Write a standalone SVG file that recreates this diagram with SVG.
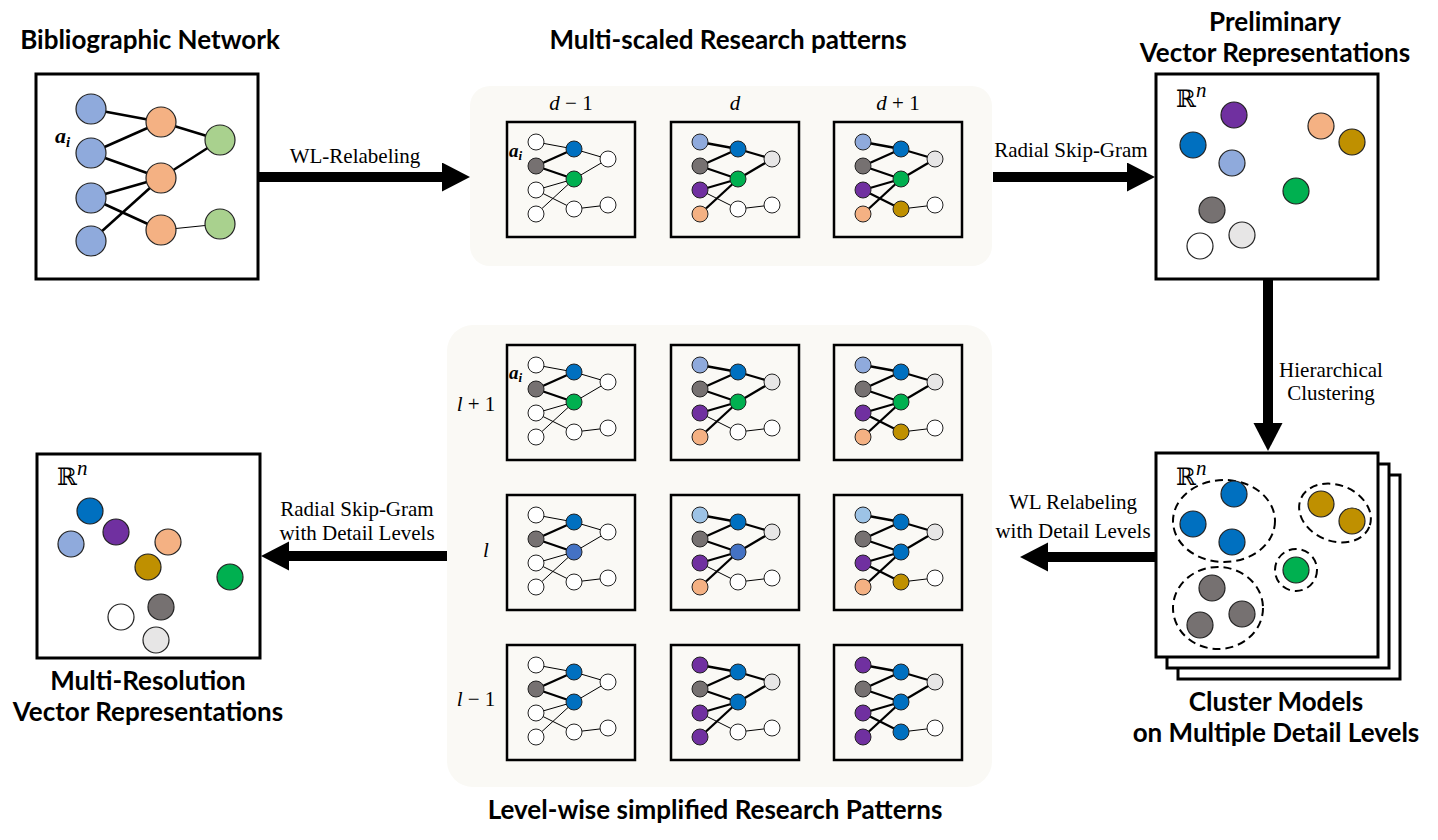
<svg xmlns="http://www.w3.org/2000/svg" xmlns:xlink="http://www.w3.org/1999/xlink" width="1438" height="840" viewBox="0 0 1438 840">
<style>
.box{fill:#fff;stroke:#000;stroke-width:3}
.mbox{fill:none;stroke:#000;stroke-width:2.5}
.panel{fill:#faf9f5}
.tk{stroke:#000;stroke-width:2.3}
.tn{stroke:#000;stroke-width:1}
.title{font-family:Lato,"Liberation Sans",sans-serif;font-weight:bold;font-size:26px;text-anchor:middle;fill:#000}
.lbl{font-family:"Liberation Serif",serif;font-size:21px;text-anchor:middle;fill:#000}
.math{font-family:"Liberation Serif",serif;font-size:21px;fill:#000}
.ai{font-family:"Liberation Serif",serif;font-weight:bold;font-style:italic;fill:#000}
.rr{font-family:"DejaVu Serif","DejaVu Sans",serif;font-size:24px;fill:#000}
.n{stroke:#222;stroke-width:1}
.nb{stroke:#222;stroke-width:1.2}
.dash{fill:none;stroke:#000;stroke-width:2;stroke-dasharray:8,5}
.conn{stroke:#000;stroke-width:10;fill:none}
.w{fill:#fff}.lb{fill:#8faadc}.or{fill:#f4b183}.lg{fill:#a9d18e}.bl{fill:#0070c0}.pu{fill:#7030a0}.go{fill:#bf9000}.gr{fill:#00b050}.dg{fill:#767171}.lgr{fill:#e7e6e6}.mb{fill:#4472c4}.sk{fill:#9dc3e6}
</style>
<defs>
<marker id="ah" markerUnits="userSpaceOnUse" markerWidth="30" markerHeight="30" refX="1" refY="14.5" orient="auto">
<path d="M0,0 L28,14.5 L0,29 z" fill="#000"/>
</marker>
<g id="eA">
<line class="tn" x1="29" y1="20" x2="67" y2="27"/>
<line class="tk" x1="29" y1="44" x2="67" y2="27"/>
<line class="tk" x1="29" y1="44" x2="67" y2="57"/>
<line class="tn" x1="29" y1="68" x2="67" y2="57"/>
<line class="tn" x1="29" y1="68" x2="67" y2="87"/>
<line class="tn" x1="29" y1="92" x2="67" y2="57"/>
<line class="tn" x1="67" y1="27" x2="101" y2="37"/>
<line class="tn" x1="67" y1="57" x2="101" y2="37"/>
<line class="tn" x1="67" y1="87" x2="101" y2="83"/>
</g>
<g id="eB">
<line class="tk" x1="29" y1="20" x2="67" y2="27"/>
<line class="tk" x1="29" y1="44" x2="67" y2="27"/>
<line class="tk" x1="29" y1="44" x2="67" y2="57"/>
<line class="tk" x1="29" y1="68" x2="67" y2="57"/>
<line class="tn" x1="29" y1="68" x2="67" y2="87"/>
<line class="tk" x1="29" y1="92" x2="67" y2="57"/>
<line class="tk" x1="67" y1="27" x2="101" y2="37"/>
<line class="tk" x1="67" y1="57" x2="101" y2="37"/>
<line class="tn" x1="67" y1="87" x2="101" y2="83"/>
</g>
<g id="eC">
<line class="tk" x1="29" y1="20" x2="67" y2="27"/>
<line class="tk" x1="29" y1="44" x2="67" y2="27"/>
<line class="tk" x1="29" y1="44" x2="67" y2="57"/>
<line class="tk" x1="29" y1="68" x2="67" y2="57"/>
<line class="tk" x1="29" y1="68" x2="67" y2="87"/>
<line class="tk" x1="29" y1="92" x2="67" y2="57"/>
<line class="tk" x1="67" y1="27" x2="101" y2="37"/>
<line class="tk" x1="67" y1="57" x2="101" y2="37"/>
<line class="tn" x1="67" y1="87" x2="101" y2="83"/>
</g>
<rect id="mb" class="mbox" x="0" y="0" width="128" height="115"/>
</defs>

<rect width="1438" height="840" fill="#fff"/>

<!-- Panels -->
<rect class="panel" x="470" y="86" width="522" height="180" rx="20"/>
<rect class="panel" x="447" y="325" width="545" height="462" rx="26"/>

<!-- Bibliographic Network -->
<g id="bib">
<text class="title" x="150" y="49">Bibliographic Network</text>
<rect class="box" x="36" y="74" width="222" height="205"/>
<g stroke="#000" stroke-width="2.5">
<line x1="91" y1="109" x2="161" y2="122"/>
<line x1="91" y1="153" x2="161" y2="122"/>
<line x1="91" y1="153" x2="161" y2="178"/>
<line x1="91" y1="198" x2="161" y2="178"/>
<line x1="91" y1="198" x2="161" y2="230"/>
<line x1="91" y1="241" x2="161" y2="178"/>
<line x1="161" y1="122" x2="220" y2="140"/>
<line x1="161" y1="178" x2="220" y2="140"/>
</g>
<line x1="161" y1="230" x2="220" y2="224" stroke="#000" stroke-width="1"/>
<circle class="nb lb" cx="91" cy="109" r="15"/>
<circle class="nb lb" cx="91" cy="153" r="15"/>
<circle class="nb lb" cx="91" cy="198" r="15"/>
<circle class="nb lb" cx="91" cy="241" r="15"/>
<circle class="nb or" cx="161" cy="122" r="15"/>
<circle class="nb or" cx="161" cy="178" r="15"/>
<circle class="nb or" cx="161" cy="230" r="15"/>
<circle class="nb lg" cx="220" cy="140" r="15"/>
<circle class="nb lg" cx="220" cy="224" r="15"/>
<text class="ai" x="55" y="143" font-size="22">a<tspan font-size="15" dy="4">i</tspan></text>
</g>

<!-- Multi-scaled Research patterns -->
<g id="multiscaled">
<text class="title" x="728" y="49">Multi-scaled Research patterns</text>
<text class="math" x="571" y="110" text-anchor="middle"><tspan font-style="italic">d</tspan> − 1</text>
<text class="math" x="735" y="110" text-anchor="middle" font-style="italic">d</text>
<text class="math" x="898" y="110" text-anchor="middle"><tspan font-style="italic">d</tspan> + 1</text>
<g id="ms1" transform="translate(507,122)">
<use xlink:href="#mb"/><use xlink:href="#eA"/>
<circle class="n w" cx="29" cy="20" r="8"/><circle class="n dg" cx="29" cy="44" r="8"/><circle class="n w" cx="29" cy="68" r="8"/><circle class="n w" cx="29" cy="92" r="8"/>
<circle class="n bl" cx="67" cy="27" r="8"/><circle class="n gr" cx="67" cy="57" r="8"/><circle class="n w" cx="67" cy="87" r="8"/>
<circle class="n w" cx="101" cy="37" r="8"/><circle class="n w" cx="101" cy="83" r="8"/>
<text class="ai" x="2" y="35" font-size="19">a<tspan font-size="13" dy="3">i</tspan></text>
</g>
<g id="ms2" transform="translate(671,122)">
<use xlink:href="#mb"/><use xlink:href="#eB"/>
<circle class="n lb" cx="29" cy="20" r="8"/><circle class="n dg" cx="29" cy="44" r="8"/><circle class="n pu" cx="29" cy="68" r="8"/><circle class="n or" cx="29" cy="92" r="8"/>
<circle class="n bl" cx="67" cy="27" r="8"/><circle class="n gr" cx="67" cy="57" r="8"/><circle class="n w" cx="67" cy="87" r="8"/>
<circle class="n lgr" cx="101" cy="37" r="8"/><circle class="n w" cx="101" cy="83" r="8"/>
</g>
<g id="ms3" transform="translate(834,122)">
<use xlink:href="#mb"/><use xlink:href="#eC"/>
<circle class="n lb" cx="29" cy="20" r="8"/><circle class="n dg" cx="29" cy="44" r="8"/><circle class="n pu" cx="29" cy="68" r="8"/><circle class="n or" cx="29" cy="92" r="8"/>
<circle class="n bl" cx="67" cy="27" r="8"/><circle class="n gr" cx="67" cy="57" r="8"/><circle class="n go" cx="67" cy="87" r="8"/>
<circle class="n lgr" cx="101" cy="37" r="8"/><circle class="n w" cx="101" cy="83" r="8"/>
</g>
</g>

<!-- Preliminary Vector Representations -->
<g id="prelim">
<text class="title" x="1275" y="31">Preliminary</text>
<text class="title" x="1275" y="62">Vector Representations</text>
<rect class="box" x="1156" y="74" width="222" height="205"/>
<text class="rr" x="1176" y="107">ℝ<tspan class="math" font-style="italic" font-size="20" dy="-10">n</tspan></text>
<circle class="nb pu" cx="1234" cy="115" r="13"/>
<circle class="nb bl" cx="1193" cy="145" r="13"/>
<circle class="nb lb" cx="1232" cy="163" r="13"/>
<circle class="nb or" cx="1321" cy="126" r="13"/>
<circle class="nb go" cx="1352" cy="142" r="13"/>
<circle class="nb gr" cx="1296" cy="191" r="13"/>
<circle class="nb dg" cx="1212" cy="210" r="13"/>
<circle class="nb lgr" cx="1242" cy="235" r="13"/>
<circle class="nb w" cx="1200" cy="246" r="13"/>
</g>

<!-- Cluster Models -->
<g id="cluster">
<rect class="box" x="1178" y="475" width="222" height="204"/>
<rect class="box" x="1167" y="464" width="222" height="204"/>
<rect class="box" x="1156" y="453" width="222" height="204"/>
<text class="rr" x="1176" y="485">ℝ<tspan class="math" font-style="italic" font-size="20" dy="-10">n</tspan></text>
<ellipse class="dash" cx="1224" cy="521" rx="51" ry="41"/>
<ellipse class="dash" cx="1335" cy="513" rx="37" ry="28" transform="rotate(22 1335 513)"/>
<circle class="dash" cx="1296" cy="570" r="21"/>
<ellipse class="dash" cx="1218" cy="608" rx="45" ry="41"/>
<circle class="nb bl" cx="1234" cy="494" r="13"/>
<circle class="nb bl" cx="1193" cy="524" r="13"/>
<circle class="nb bl" cx="1232" cy="542" r="13"/>
<circle class="nb go" cx="1321" cy="504" r="13"/>
<circle class="nb go" cx="1352" cy="521" r="13"/>
<circle class="nb gr" cx="1296" cy="570" r="13"/>
<circle class="nb dg" cx="1212" cy="588" r="13"/>
<circle class="nb dg" cx="1242" cy="614" r="13"/>
<circle class="nb dg" cx="1200" cy="625" r="13"/>
<text class="title" x="1276" y="711">Cluster Models</text>
<text class="title" x="1276" y="742">on Multiple Detail Levels</text>
</g>

<!-- Level-wise simplified Research Patterns -->
<g id="levelwise">
<text class="math" x="476" y="411" text-anchor="middle"><tspan font-style="italic">l</tspan> + 1</text>
<text class="math" x="486" y="557" text-anchor="middle" font-style="italic">l</text>
<text class="math" x="476" y="706" text-anchor="middle"><tspan font-style="italic">l</tspan> − 1</text>
<g id="lw11" transform="translate(507,345)">
<use xlink:href="#mb"/><use xlink:href="#eA"/>
<circle class="n w" cx="29" cy="20" r="8"/><circle class="n dg" cx="29" cy="44" r="8"/><circle class="n w" cx="29" cy="68" r="8"/><circle class="n w" cx="29" cy="92" r="8"/>
<circle class="n bl" cx="67" cy="27" r="8"/><circle class="n gr" cx="67" cy="57" r="8"/><circle class="n w" cx="67" cy="87" r="8"/>
<circle class="n w" cx="101" cy="37" r="8"/><circle class="n w" cx="101" cy="83" r="8"/>
<text class="ai" x="2" y="34" font-size="19">a<tspan font-size="13" dy="3">i</tspan></text>
</g>
<g id="lw12" transform="translate(671,345)">
<use xlink:href="#mb"/><use xlink:href="#eB"/>
<circle class="n lb" cx="29" cy="20" r="8"/><circle class="n dg" cx="29" cy="44" r="8"/><circle class="n pu" cx="29" cy="68" r="8"/><circle class="n or" cx="29" cy="92" r="8"/>
<circle class="n bl" cx="67" cy="27" r="8"/><circle class="n gr" cx="67" cy="57" r="8"/><circle class="n w" cx="67" cy="87" r="8"/>
<circle class="n lgr" cx="101" cy="37" r="8"/><circle class="n w" cx="101" cy="83" r="8"/>
</g>
<g id="lw13" transform="translate(834,345)">
<use xlink:href="#mb"/><use xlink:href="#eC"/>
<circle class="n lb" cx="29" cy="20" r="8"/><circle class="n dg" cx="29" cy="44" r="8"/><circle class="n pu" cx="29" cy="68" r="8"/><circle class="n or" cx="29" cy="92" r="8"/>
<circle class="n bl" cx="67" cy="27" r="8"/><circle class="n gr" cx="67" cy="57" r="8"/><circle class="n go" cx="67" cy="87" r="8"/>
<circle class="n lgr" cx="101" cy="37" r="8"/><circle class="n w" cx="101" cy="83" r="8"/>
</g>
<g id="lw21" transform="translate(507,495)">
<use xlink:href="#mb"/><use xlink:href="#eA"/>
<circle class="n w" cx="29" cy="20" r="8"/><circle class="n dg" cx="29" cy="44" r="8"/><circle class="n w" cx="29" cy="68" r="8"/><circle class="n w" cx="29" cy="92" r="8"/>
<circle class="n bl" cx="67" cy="27" r="8"/><circle class="n mb" cx="67" cy="57" r="8"/><circle class="n w" cx="67" cy="87" r="8"/>
<circle class="n w" cx="101" cy="37" r="8"/><circle class="n w" cx="101" cy="83" r="8"/>
</g>
<g id="lw22" transform="translate(671,495)">
<use xlink:href="#mb"/><use xlink:href="#eB"/>
<circle class="n sk" cx="29" cy="20" r="8"/><circle class="n dg" cx="29" cy="44" r="8"/><circle class="n pu" cx="29" cy="68" r="8"/><circle class="n or" cx="29" cy="92" r="8"/>
<circle class="n bl" cx="67" cy="27" r="8"/><circle class="n mb" cx="67" cy="57" r="8"/><circle class="n w" cx="67" cy="87" r="8"/>
<circle class="n lgr" cx="101" cy="37" r="8"/><circle class="n w" cx="101" cy="83" r="8"/>
</g>
<g id="lw23" transform="translate(834,495)">
<use xlink:href="#mb"/><use xlink:href="#eC"/>
<circle class="n sk" cx="29" cy="20" r="8"/><circle class="n dg" cx="29" cy="44" r="8"/><circle class="n pu" cx="29" cy="68" r="8"/><circle class="n or" cx="29" cy="92" r="8"/>
<circle class="n bl" cx="67" cy="27" r="8"/><circle class="n bl" cx="67" cy="57" r="8"/><circle class="n go" cx="67" cy="87" r="8"/>
<circle class="n lgr" cx="101" cy="37" r="8"/><circle class="n w" cx="101" cy="83" r="8"/>
</g>
<g id="lw31" transform="translate(507,645)">
<use xlink:href="#mb"/><use xlink:href="#eA"/>
<circle class="n w" cx="29" cy="20" r="8"/><circle class="n dg" cx="29" cy="44" r="8"/><circle class="n w" cx="29" cy="68" r="8"/><circle class="n w" cx="29" cy="92" r="8"/>
<circle class="n bl" cx="67" cy="27" r="8"/><circle class="n bl" cx="67" cy="57" r="8"/><circle class="n w" cx="67" cy="87" r="8"/>
<circle class="n w" cx="101" cy="37" r="8"/><circle class="n w" cx="101" cy="83" r="8"/>
</g>
<g id="lw32" transform="translate(671,645)">
<use xlink:href="#mb"/><use xlink:href="#eB"/>
<circle class="n pu" cx="29" cy="20" r="8"/><circle class="n dg" cx="29" cy="44" r="8"/><circle class="n pu" cx="29" cy="68" r="8"/><circle class="n pu" cx="29" cy="92" r="8"/>
<circle class="n bl" cx="67" cy="27" r="8"/><circle class="n bl" cx="67" cy="57" r="8"/><circle class="n w" cx="67" cy="87" r="8"/>
<circle class="n lgr" cx="101" cy="37" r="8"/><circle class="n w" cx="101" cy="83" r="8"/>
</g>
<g id="lw33" transform="translate(834,645)">
<use xlink:href="#mb"/><use xlink:href="#eC"/>
<circle class="n pu" cx="29" cy="20" r="8"/><circle class="n dg" cx="29" cy="44" r="8"/><circle class="n pu" cx="29" cy="68" r="8"/><circle class="n pu" cx="29" cy="92" r="8"/>
<circle class="n bl" cx="67" cy="27" r="8"/><circle class="n bl" cx="67" cy="57" r="8"/><circle class="n bl" cx="67" cy="87" r="8"/>
<circle class="n lgr" cx="101" cy="37" r="8"/><circle class="n w" cx="101" cy="83" r="8"/>
</g>
<text class="title" x="715" y="819">Level-wise simplified Research Patterns</text>
</g>

<!-- Multi-Resolution Vector Representations -->
<g id="multires">
<rect class="box" x="37" y="454" width="223" height="204"/>
<text class="rr" x="57" y="485">ℝ<tspan class="math" font-style="italic" font-size="20" dy="-10">n</tspan></text>
<circle class="nb bl" cx="90" cy="511" r="13"/>
<circle class="nb pu" cx="116" cy="532" r="13"/>
<circle class="nb lb" cx="71" cy="544" r="13"/>
<circle class="nb or" cx="168" cy="542" r="13"/>
<circle class="nb go" cx="148" cy="567" r="13"/>
<circle class="nb gr" cx="230" cy="577" r="13"/>
<circle class="nb dg" cx="161" cy="607" r="13"/>
<circle class="nb w" cx="121" cy="617" r="13"/>
<circle class="nb lgr" cx="156" cy="640" r="13"/>
<text class="title" x="148" y="690">Multi-Resolution</text>
<text class="title" x="148" y="721">Vector Representations</text>
</g>

<!-- Connectors -->
<g id="connectors">
<line class="conn" x1="258" y1="177" x2="443" y2="177" marker-end="url(#ah)"/>
<text class="lbl" x="355" y="163">WL-Relabeling</text>
<line class="conn" x1="993" y1="177" x2="1128" y2="177" marker-end="url(#ah)"/>
<text class="lbl" x="1071" y="157">Radial Skip-Gram</text>
<line class="conn" x1="1268" y1="279" x2="1268" y2="424" marker-end="url(#ah)"/>
<text class="lbl" x="1331" y="377">Hierarchical</text>
<text class="lbl" x="1331" y="400">Clustering</text>
<line class="conn" x1="1156" y1="557" x2="1047" y2="557" marker-end="url(#ah)"/>
<text class="lbl" x="1073" y="509">WL Relabeling</text>
<text class="lbl" x="1073" y="538">with Detail Levels</text>
<line class="conn" x1="447" y1="556" x2="288" y2="556" marker-end="url(#ah)"/>
<text class="lbl" x="357" y="516">Radial Skip-Gram</text>
<text class="lbl" x="357" y="540">with Detail Levels</text>
</g>
</svg>
